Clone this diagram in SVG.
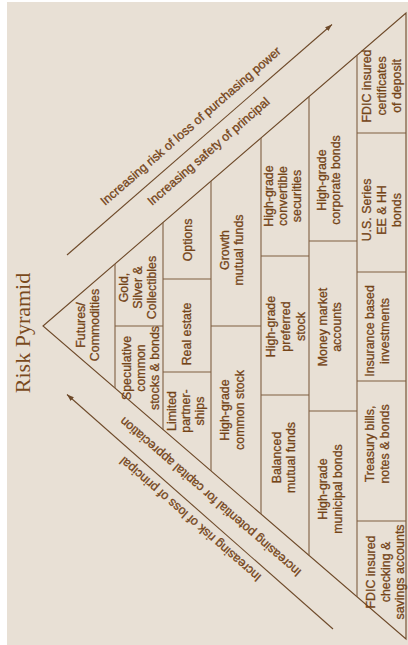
<svg xmlns="http://www.w3.org/2000/svg" width="408" height="645" viewBox="0 0 408 645">
<style>
.bg{fill:#E8E0D5}
.t{font-family:"Liberation Sans",Arial,sans-serif;font-size:12.4px;fill:#744418;stroke:#744418;stroke-width:0.3px;text-anchor:middle}
.dt{font-family:"Liberation Sans",Arial,sans-serif;font-size:12.4px;fill:#744418;stroke:#744418;stroke-width:0.3px}
.title{font-family:"Liberation Serif","Times New Roman",serif;font-size:22px;fill:#7A4A1C;text-anchor:middle}
.edge{stroke:#6E4A2A;stroke-width:1.1;fill:none}
.div{stroke:#7E5E40;stroke-width:1.1;fill:none}
.arr{stroke:#6E4A2A;stroke-width:1.1;fill:none}
</style>
<defs>
<marker id="ah" markerUnits="userSpaceOnUse" markerWidth="8" markerHeight="6" refX="7" refY="3" orient="auto">
<path d="M0,0.5 L7,3 L0,5.5 Z" fill="#6E4A2A"/>
</marker>
</defs>
<rect class="bg" x="7" y="2" width="401" height="643"/>
<text class="title" transform="translate(30,333) rotate(-90)">Risk Pyramid</text>
<g id="connectors">
<line class="arr" x1="67" y1="255" x2="332" y2="24.5" marker-end="url(#ah)"/>
<line class="arr" x1="333" y1="629" x2="67" y2="394.5" marker-end="url(#ah)"/>
<text class="dt" transform="translate(105,206) rotate(-41)">Increasing risk of loss of purchasing power</text>
<text class="dt" transform="translate(152,206) rotate(-41)">Increasing safety of principal</text>
<text class="dt" transform="translate(302,571) rotate(-139)">Increasing potential for capital appreciation</text>
<text class="dt" transform="translate(262,576) rotate(-139)">Increasing risk of loss of principal</text>
</g>
<g id="pyramid">
<polygon class="edge" points="43,326 406,13 406,639"/>
<line class="div" x1="115" y1="263.9" x2="115" y2="388.1"/>
<line class="div" x1="163" y1="222.5" x2="163" y2="429.5"/>
<line class="div" x1="211" y1="181.1" x2="211" y2="470.9"/>
<line class="div" x1="261" y1="138" x2="261" y2="514"/>
<line class="div" x1="309" y1="96.6" x2="309" y2="555.4"/>
<line class="div" x1="357" y1="55.2" x2="357" y2="596.8"/>
<line class="div" x1="115" y1="326" x2="163" y2="326"/>
<line class="div" x1="163" y1="279" x2="211" y2="279"/>
<line class="div" x1="163" y1="372" x2="211" y2="372"/>
<line class="div" x1="211" y1="326" x2="261" y2="326"/>
<line class="div" x1="261" y1="256" x2="309" y2="256"/>
<line class="div" x1="261" y1="395" x2="309" y2="395"/>
<line class="div" x1="309" y1="241" x2="357" y2="241"/>
<line class="div" x1="309" y1="411" x2="357" y2="411"/>
<line class="div" x1="357" y1="133" x2="406" y2="133"/>
<line class="div" x1="357" y1="272" x2="406" y2="272"/>
<line class="div" x1="357" y1="381" x2="406" y2="381"/>
<line class="div" x1="357" y1="521" x2="406" y2="521"/>
</g>
<g id="n-futures"><text class="t" transform="translate(92,325) rotate(-90)"><tspan x="0" y="-7">Futures/</tspan><tspan x="0" y="7">Commodities</tspan></text></g>
<g id="n-gold"><text class="t" transform="translate(141.5,287.5) rotate(-90)"><tspan x="0" y="-14">Gold,</tspan><tspan x="0" y="0">Silver &amp;</tspan><tspan x="0" y="14">Collectibles</tspan></text></g>
<g id="n-speculative"><text class="t" transform="translate(145,368) rotate(-90)"><tspan x="0" y="-14">Speculative</tspan><tspan x="0" y="0">common</tspan><tspan x="0" y="14">stocks &amp; bonds</tspan></text></g>
<g id="n-options"><text class="t" transform="translate(191.7,240) rotate(-90)">Options</text></g>
<g id="n-realestate"><text class="t" transform="translate(191,334) rotate(-90)">Real estate</text></g>
<g id="n-limited"><text class="t" transform="translate(190,411) rotate(-90)"><tspan x="0" y="-14">Limited</tspan><tspan x="0" y="0">partner-</tspan><tspan x="0" y="14">ships</tspan></text></g>
<g id="n-growth"><text class="t" transform="translate(236,250) rotate(-90)"><tspan x="0" y="-7">Growth</tspan><tspan x="0" y="7">mutual funds</tspan></text></g>
<g id="n-commonstock"><text class="t" transform="translate(236.5,410) rotate(-90)"><tspan x="0" y="-7.5">High-grade</tspan><tspan x="0" y="7.5">common stock</tspan></text></g>
<g id="n-convertible"><text class="t" transform="translate(287,196) rotate(-90)"><tspan x="0" y="-14.3">High-grade</tspan><tspan x="0" y="0">convertible</tspan><tspan x="0" y="14.3">securities</tspan></text></g>
<g id="n-preferred"><text class="t" transform="translate(290,326.5) rotate(-90)"><tspan x="0" y="-14.7">High-grade</tspan><tspan x="0" y="0">preferred</tspan><tspan x="0" y="14.7">stock</tspan></text></g>
<g id="n-balanced"><text class="t" transform="translate(287.6,457.5) rotate(-90)"><tspan x="0" y="-7">Balanced</tspan><tspan x="0" y="7">mutual funds</tspan></text></g>
<g id="n-corporate"><text class="t" transform="translate(333,180) rotate(-90)"><tspan x="0" y="-7">High-grade</tspan><tspan x="0" y="7">corporate bonds</tspan></text></g>
<g id="n-moneymarket"><text class="t" transform="translate(334,327) rotate(-90)"><tspan x="0" y="-7">Money market</tspan><tspan x="0" y="7">accounts</tspan></text></g>
<g id="n-municipal"><text class="t" transform="translate(334.5,489) rotate(-90)"><tspan x="0" y="-7.5">High-grade</tspan><tspan x="0" y="7.5">municipal bonds</tspan></text></g>
<g id="n-fdiccd"><text class="t" transform="translate(385.7,86) rotate(-90)"><tspan x="0" y="-15">FDIC insured</tspan><tspan x="0" y="0">certificates</tspan><tspan x="0" y="15">of deposit</tspan></text></g>
<g id="n-usseries"><text class="t" transform="translate(385.5,210) rotate(-90)"><tspan x="0" y="-15">U.S. Series</tspan><tspan x="0" y="0">EE &amp; HH</tspan><tspan x="0" y="15">bonds</tspan></text></g>
<g id="n-insurance"><text class="t" transform="translate(381.5,331) rotate(-90)"><tspan x="0" y="-7.5">Insurance based</tspan><tspan x="0" y="7.5">investments</tspan></text></g>
<g id="n-treasury"><text class="t" transform="translate(381.5,444) rotate(-90)"><tspan x="0" y="-7.5">Treasury bills,</tspan><tspan x="0" y="7.5">notes &amp; bonds</tspan></text></g>
<g id="n-fdicchecking"><text class="t" transform="translate(389.5,572) rotate(-90)"><tspan x="0" y="-14.5">FDIC insured</tspan><tspan x="0" y="0">checking &amp;</tspan><tspan x="0" y="14.5">savings accounts</tspan></text></g>
</svg>
